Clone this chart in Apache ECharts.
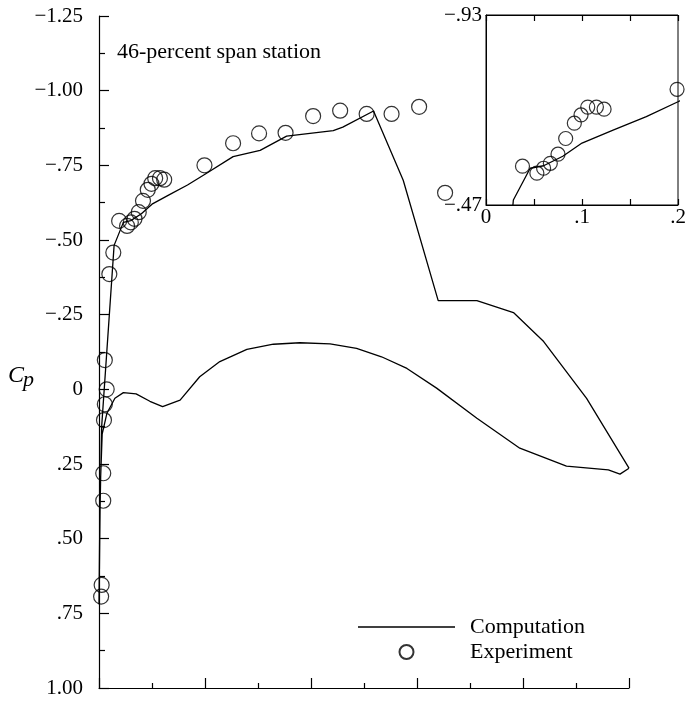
<!DOCTYPE html>
<html>
<head>
<meta charset="utf-8">
<script src="https://cdn.jsdelivr.net/npm/echarts@6/dist/echarts.min.js"></script>
<style>
  html, body { margin: 0; padding: 0; background: #fff; }
  #chart { width: 689px; height: 705px; }
</style>
</head>
<body>
<div id="chart"></div>
<script>
// computation: lower surface TE -> LE, then upper surface LE -> TE  [x/c, Cp]
const computation = [
  [1.0, 0.264], [0.983, 0.284], [0.961, 0.270], [0.882, 0.257], [0.794, 0.197],
  [0.713, 0.097], [0.637, -0.004], [0.581, -0.070], [0.533, -0.109], [0.486, -0.137],
  [0.436, -0.152], [0.379, -0.156], [0.329, -0.151], [0.279, -0.134], [0.228, -0.093],
  [0.19, -0.042], [0.153, 0.036], [0.120, 0.058], [0.096, 0.040], [0.07, 0.015],
  [0.046, 0.011], [0.03, 0.03], [0.015, 0.08], [0.006, 0.15], [0.002, 0.35],
  [0.0, 0.72], [0.002, 0.40], [0.005, 0.125], [0.0285, -0.482], [0.046, -0.559],
  [0.06, -0.565], [0.08, -0.588], [0.10, -0.62], [0.133, -0.652], [0.167, -0.684],
  [0.2, -0.72], [0.253, -0.779], [0.304, -0.80], [0.354, -0.848], [0.442, -0.866],
  [0.46, -0.878], [0.518, -0.932], [0.574, -0.70], [0.640, -0.297], [0.713, -0.297],
  [0.782, -0.257], [0.839, -0.160], [0.920, 0.030], [1.0, 0.264]
];

const experiment = [
  [0.004, 0.694], [0.005, 0.655], [0.008, 0.373], [0.008, 0.281], [0.0094, 0.103],
  [0.011, 0.050], [0.0145, 0.000], [0.011, -0.098], [0.0195, -0.386], [0.027, -0.458],
  [0.038, -0.564], [0.053, -0.547], [0.060, -0.559], [0.067, -0.571], [0.075, -0.593],
  [0.083, -0.631], [0.092, -0.668], [0.099, -0.688], [0.106, -0.707], [0.115, -0.707],
  [0.123, -0.702], [0.199, -0.750], [0.253, -0.824], [0.302, -0.857], [0.352, -0.859],
  [0.404, -0.915], [0.455, -0.933], [0.505, -0.922], [0.552, -0.922], [0.604, -0.946],
  [0.653, -0.658]
];

const insetXLabels = [0, 0.1, 0.2];
const insetYLabels = [-0.93, -0.47];

const font = 'Liberation Serif';
const minus = '\u2212';

function cpLabel(v) {
  if (Math.abs(v) < 1e-9) return '0';
  let s = Math.abs(v).toFixed(2);
  if (s.startsWith('0.')) s = s.slice(1);
  return (v < 0 ? minus : '') + s;
}

const chart = echarts.init(document.getElementById('chart'), null, { renderer: 'canvas' });

const circleStyle = {
  color: 'rgba(0,0,0,0)',
  borderColor: '#000',
  borderWidth: 1.2
};

const black = { color: '#000', width: 1.2 };

chart.setOption({
  animation: false,
  backgroundColor: '#fff',
  textStyle: { fontFamily: font, color: '#000' },
  grid: [
    { left: 99, right: 60, top: 16, bottom: 17 },
    { left: 486, right: 11, top: 15, bottom: 500, show: true, borderColor: '#000', borderWidth: 1, backgroundColor: 'rgba(0,0,0,0)' }
  ],
  xAxis: [
    {
      gridIndex: 0, type: 'value', min: 0, max: 1, interval: 0.2,
      axisLine: { show: true, onZero: false, lineStyle: black },
      axisTick: { show: true, inside: true, length: 10, lineStyle: black },
      minorTick: { show: true, splitNumber: 2, length: 5, lineStyle: black },
      axisLabel: { show: false },
      splitLine: { show: false }
    },
    {
      gridIndex: 1, type: 'value', min: 0, max: 0.2, interval: 0.05,
      axisLine: { show: true, onZero: false, lineStyle: { color: '#000', width: 1 } },
      axisTick: { show: true, inside: true, length: 6, lineStyle: black },
      axisLabel: {
        margin: 2, fontSize: 21, fontFamily: font, color: '#000',
        formatter: v => {
          const hit = insetXLabels.find(t => Math.abs(t - v) < 1e-6);
          if (hit === undefined) return '';
          return hit === 0 ? '0' : String(hit).replace(/^0/, '');
        }
      },
      splitLine: { show: false }
    },
    {
      gridIndex: 1, type: 'value', min: 0, max: 0.2, interval: 0.05, position: 'top',
      axisLine: { show: true, onZero: false, lineStyle: { color: '#000', width: 1 } },
      axisTick: { show: true, inside: true, length: 6, lineStyle: black },
      axisLabel: { show: false },
      splitLine: { show: false }
    }
  ],
  yAxis: [
    {
      gridIndex: 0, type: 'value', min: -1.25, max: 1, interval: 0.25, inverse: true,
      axisLine: { show: true, onZero: false, lineStyle: black },
      axisTick: { show: true, inside: true, length: 10, lineStyle: black },
      minorTick: { show: true, splitNumber: 2, length: 6, lineStyle: black },
      axisLabel: { margin: 16, fontSize: 21, fontFamily: font, color: '#000', formatter: cpLabel },
      splitLine: { show: false }
    },
    {
      gridIndex: 1, type: 'value', min: -0.93, max: -0.47, inverse: true,
      axisLine: { show: true, onZero: false, lineStyle: { color: '#000', width: 1 } },
      axisTick: { show: false },
      axisLabel: {
        margin: 4, fontSize: 21, fontFamily: font, color: '#000',
        showMinLabel: true, showMaxLabel: true,
        formatter: v => insetYLabels.some(t => Math.abs(t - v) < 1e-6) ? cpLabel(v) : ''
      },
      splitLine: { show: false }
    }
  ],
  legend: {
    data: [
      { name: 'Computation', icon: 'path://M0,0 L97,0 L97,1.3 L0,1.3 Z' },
      { name: 'Experiment' }
    ],
    orient: 'vertical',
    left: 353, top: 611,
    itemWidth: 97, itemHeight: 14, itemGap: 3,
    selectedMode: false,
    textStyle: { fontFamily: font, fontSize: 22, color: '#000', padding: [0, 0, 0, 10], lineHeight: 21 }
  },
  series: [
    {
      name: 'Computation', type: 'line', xAxisIndex: 0, yAxisIndex: 0,
      data: computation, symbol: 'none', showSymbol: false,
      lineStyle: { color: '#000', width: 1.3 }, itemStyle: { color: '#000' }
    },
    {
      name: 'Experiment', type: 'scatter', xAxisIndex: 0, yAxisIndex: 0,
      data: experiment, symbol: 'circle', symbolSize: 15, itemStyle: circleStyle
    },
    {
      name: 'Computation', type: 'line', xAxisIndex: 1, yAxisIndex: 1,
      data: computation, symbol: 'none', showSymbol: false, clip: true,
      lineStyle: { color: '#000', width: 1.3 }, itemStyle: { color: '#000' }
    },
    {
      name: 'Experiment', type: 'scatter', xAxisIndex: 1, yAxisIndex: 1,
      data: experiment, symbol: 'circle', symbolSize: 14, clip: true, itemStyle: circleStyle
    }
  ],
  graphic: [
    { type: 'text', style: { x: 117, y: 41, text: '46-percent span station', font: '22px "Liberation Serif"', fill: '#000', textBaseline: 'alphabetic' } },
    { type: 'text', style: { x: 8, y: 364, text: 'C', font: 'italic 24px "Liberation Serif"', fill: '#000', textBaseline: 'alphabetic' } },
    { type: 'text', style: { x: 23, y: 369, text: 'p', font: 'italic 22px "Liberation Serif"', fill: '#000', textBaseline: 'alphabetic' } }
  ]
});

window.addEventListener('resize', () => chart.resize());
</script>
</body>
</html>
